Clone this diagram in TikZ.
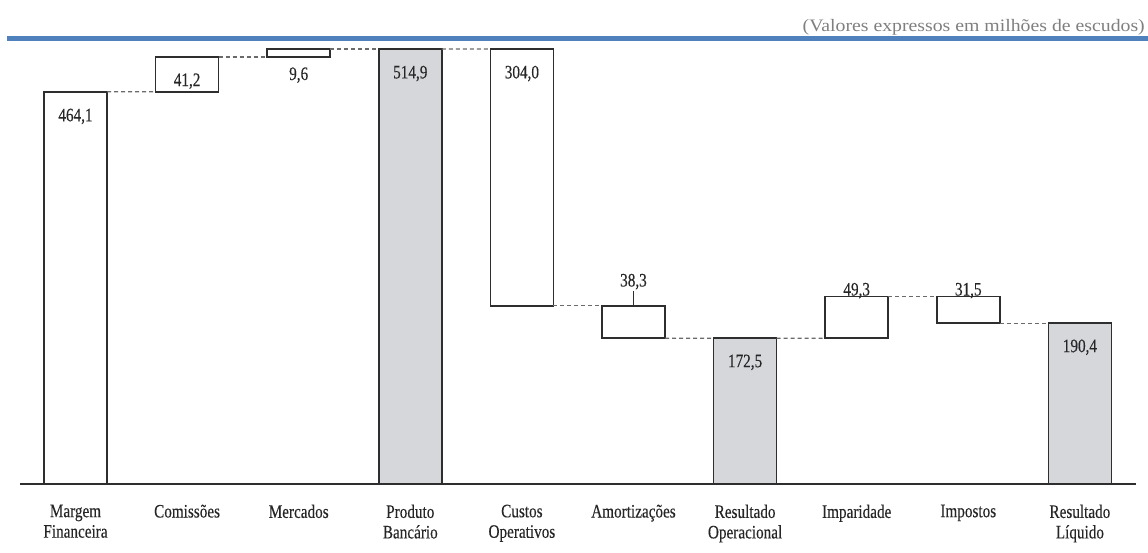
\documentclass[tikz,border=0pt]{standalone}
\usepackage{fontspec}
\setmainfont{Liberation Serif}
\newfontfamily\labfont[FakeStretch=0.8,FakeBold=0.25]{Liberation Serif}
\newfontfamily\titfont[FakeStretch=1.13]{Liberation Serif}
\definecolor{blueline}{HTML}{4F81BD}
\definecolor{barfill}{HTML}{D5D7DA}
\definecolor{edge}{HTML}{2E2E2E}
\definecolor{dashc}{HTML}{6A6A6A}
\definecolor{titlec}{HTML}{7F7F7F}
\tikzset{
  barbox/.style={draw=edge, line width=1.5pt, fill=white, minimum width=63pt, inner sep=0pt, outer sep=0pt, anchor=south},
  totbox/.style={barbox, fill=barfill},
  val/.style={font=\labfont\fontsize{19}{20}\selectfont, inner sep=1.5pt, anchor=base, text=black!85},
  cat/.style={font=\labfont\fontsize{19}{20.5}\selectfont, inner sep=0pt, anchor=north, align=center, text=black!85},
  link/.style={draw=dashc, line width=1.2pt, dash pattern=on 4pt off 3pt},
}
\begin{document}
\begin{tikzpicture}[x=1pt,y=-1pt]
\useasboundingbox (0,0) rectangle (1148,552);
% title and rule
\node[anchor=base east, inner sep=0pt, font=\titfont\fontsize{17.5}{20}\selectfont, text=titlec] (title) at (1145,31.5) {(Valores expressos em milhões de escudos)};
\coordinate (rl) at (7,38.5);
\coordinate (rr) at (1148,38.5);
\draw[blueline, line width=5pt] (rl) -- (rr);
% bars (anchor south = bottom edge)
\node[barbox, minimum height=392.2pt] (b1) at (75.5,484) {};
\node[barbox, minimum height=34.8pt]  (b2) at (187.1,91.8) {};
\node[barbox, minimum height=8.1pt]   (b3) at (298.7,57.0) {};
\node[totbox, minimum height=435.1pt] (b4) at (410.3,484) {};
\node[barbox, minimum height=256.9pt] (b5) at (521.9,305.8) {};
\node[barbox, minimum height=32.4pt]  (b6) at (633.5,338.2) {};
\node[totbox, minimum height=145.8pt] (b7) at (745.1,484) {};
\node[barbox, minimum height=41.7pt]  (b8) at (856.7,338.2) {};
\node[barbox, minimum height=26.6pt]  (b9) at (968.3,323.1) {};
\node[totbox, minimum height=160.9pt] (b10) at (1079.9,484) {};
% axis
\coordinate (al) at (20,484);
\coordinate (ar) at (1136,484);
\draw[edge, line width=1.8pt] (al) -- (ar);
% dashed connectors
\draw[link] (b1.north east) -- (b2.south west);
\draw[link] (b2.north east) -- (b3.south west);
\draw[link] (b3.north east) -- (b4.north west);
\draw[link] (b4.north east) -- (b5.north west);
\draw[link] (b5.south east) -- (b6.north west);
\draw[link] (b6.south east) -- (b7.north west);
\draw[link] (b7.north east) -- (b8.south west);
\draw[link] (b8.north east) -- (b9.north west);
\draw[link] (b9.south east) -- (b10.north west);
% values
\node[val] (v1) at ([yshift=-29.5pt]b1.north) {464,1};
\node[val] (v2) at ([yshift=-29pt]b2.north) {41,2};
\node[val] (v3) at ([yshift=-23pt]b3.south) {9,6};
\node[val] (v4) at ([yshift=-29.5pt]b4.north) {514,9};
\node[val] (v5) at ([yshift=-29.5pt]b5.north) {304,0};
\node[val] (v6) at ([yshift=19.3pt]b6.north) {38,3};
\draw[edge, line width=1pt] (v6.south) -- (b6.north);
\node[val] (v7) at ([yshift=-29pt]b7.north) {172,5};
\node[val] (v8) at ([yshift=1pt]b8.north) {49,3};
\node[val] (v9) at ([yshift=1pt]b9.north) {31,5};
\node[val] (v10) at ([yshift=-29pt]b10.north) {190,4};
% categories
\node[cat] (c1) at (75.5,504.5) {Margem\\Financeira};
\node[cat] (c2) at (187.1,504.5) {Comissões};
\node[cat] (c3) at (298.7,504.5) {Mercados};
\node[cat] (c4) at (410.3,504.5) {Produto\\Bancário};
\node[cat] (c5) at (521.9,504.5) {Custos\\Operativos};
\node[cat] (c6) at (633.5,504.5) {Amortizações};
\node[cat] (c7) at (745.1,504.5) {Resultado\\Operacional};
\node[cat] (c8) at (856.7,504.5) {Imparidade};
\node[cat] (c9) at (968.3,504.5) {Impostos};
\node[cat] (c10) at (1079.9,504.5) {Resultado\\Líquido};
\end{tikzpicture}
\end{document}
